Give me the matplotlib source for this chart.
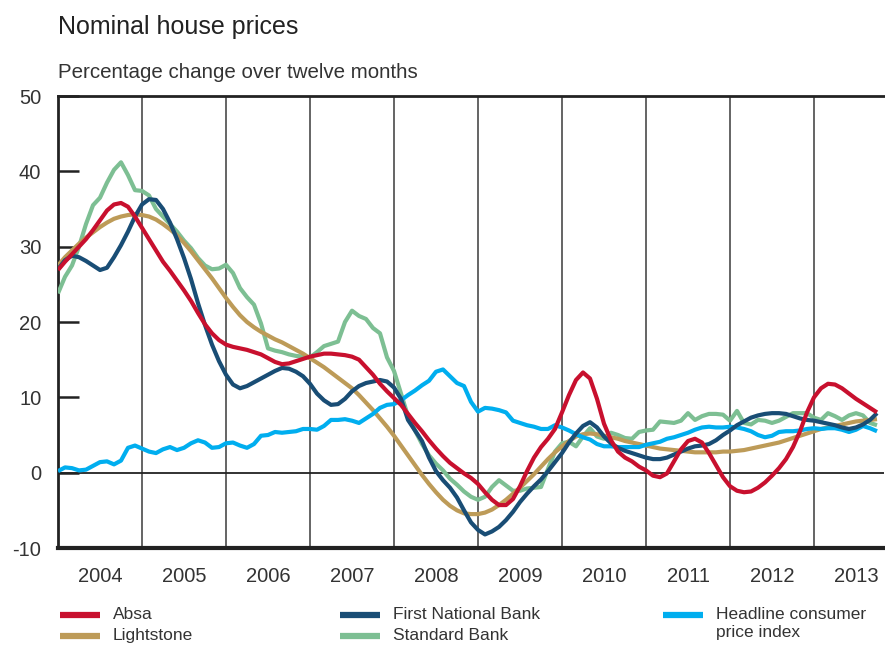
import numpy as np
import matplotlib
matplotlib.use("Agg")
import matplotlib.pyplot as plt
from matplotlib.lines import Line2D

plt.rcParams['font.family'] = ['Liberation Sans', 'DejaVu Sans']
plt.rcParams['axes.unicode_minus'] = False

# Monthly twelve-month percentage changes, January 2004 onwards
absa = [26.9, 28.0, 29.0, 30.0, 31.0, 32.2, 33.5, 34.8, 35.6, 35.8, 35.3, 34.0,
        32.5, 31.0, 29.5, 28.0, 26.8, 25.5, 24.2, 22.8, 21.2, 19.7, 18.5, 17.6,
        17.0, 16.7, 16.5, 16.3, 16.0, 15.7, 15.2, 14.7, 14.4, 14.5, 14.8, 15.1,
        15.4, 15.6, 15.8, 15.8, 15.7, 15.6, 15.4, 15.0, 14.0, 13.0, 11.8, 10.8,
        9.9, 9.0, 7.8, 6.6, 5.5, 4.3, 3.2, 2.2, 1.3, 0.6, -0.1, -0.7,
        -1.5, -2.6, -3.6, -4.3, -4.3, -3.5, -1.8, 0.2, 2.0, 3.4, 4.5, 5.8,
        8.0, 10.3, 12.3, 13.3, 12.5, 9.8, 6.5, 4.3, 2.8, 2.0, 1.5, 0.8,
        0.3, -0.4, -0.6, -0.1, 1.5, 3.1, 4.2, 4.5, 4.0, 2.6, 1.0, -0.6,
        -1.8, -2.4, -2.6, -2.5, -2.0, -1.3, -0.4, 0.6, 1.8, 3.4, 5.5, 8.0,
        10.0, 11.2, 11.8, 11.7, 11.2, 10.5, 9.8, 9.2, 8.6, 8.0]

lightstone = [27.5, 28.6, 29.5, 30.4, 31.2, 31.9, 32.6, 33.2, 33.7, 34.0, 34.2, 34.3,
              34.2, 34.0, 33.6, 33.0, 32.3, 31.5, 30.5, 29.4, 28.2, 27.0, 25.8, 24.5,
              23.2, 22.0, 20.9, 20.0, 19.3, 18.7, 18.2, 17.7, 17.3, 16.8, 16.3, 15.8,
              15.2, 14.6, 14.0, 13.3, 12.6, 11.9, 11.2, 10.3, 9.3, 8.3, 7.2, 6.1,
              4.9, 3.6, 2.3, 1.0, -0.3, -1.5, -2.6, -3.6, -4.4, -5.0, -5.4, -5.5,
              -5.5, -5.3, -4.9, -4.3, -3.6, -2.8, -2.0, -1.1, -0.2, 0.8, 1.8, 2.7,
              3.5, 4.2, 4.8, 5.1, 5.2, 5.1, 4.9, 4.7, 4.5, 4.2, 4.0, 3.8,
              3.6, 3.4, 3.2, 3.1, 3.0, 2.9, 2.8, 2.7, 2.7, 2.7, 2.7, 2.8,
              2.8, 2.9, 3.0, 3.2, 3.4, 3.6, 3.8, 4.0, 4.3, 4.6, 4.9, 5.2,
              5.5, 5.8, 6.0, 6.2, 6.4, 6.6, 6.8, 6.9, 7.0, 7.1]

fnb = [27.0, 28.2, 28.8, 28.6, 28.1, 27.5, 26.9, 27.2, 28.6, 30.2, 32.0, 34.0,
       35.6, 36.3, 36.2, 35.0, 33.2, 31.0, 28.5, 25.7, 22.5, 19.6, 17.0, 14.8,
       13.0, 11.7, 11.2, 11.5, 12.0, 12.5, 13.0, 13.5, 13.9, 13.8, 13.4, 12.8,
       11.8, 10.5, 9.6, 9.0, 9.1, 9.8, 10.8, 11.5, 11.9, 12.1, 12.3, 12.1,
       11.3, 9.8, 7.0, 5.6, 4.2, 2.0, 0.2, -1.0, -2.0, -3.3, -5.0, -6.6,
       -7.6, -8.2, -7.8, -7.2, -6.3, -5.2, -3.9, -2.8, -1.8, -0.9, 0.2, 1.4,
       2.6, 4.0, 5.2, 6.2, 6.7, 6.0, 4.8, 3.9, 3.3, 2.9, 2.6, 2.3,
       2.0, 1.8, 1.8, 2.0, 2.4, 2.8, 3.2, 3.5, 3.6, 3.8, 4.3, 5.0,
       5.6, 6.3, 6.8, 7.3, 7.6, 7.8, 7.9, 7.9, 7.8, 7.5, 7.2, 7.0,
       6.9, 6.7, 6.5, 6.3, 6.0, 5.8, 6.0, 6.4, 7.0, 7.9]

standard_bank = [23.8, 26.0, 27.5, 30.0, 33.0, 35.5, 36.5, 38.5, 40.2, 41.2, 39.5, 37.5,
                 37.4, 36.8, 35.0, 34.0, 33.0, 32.0, 30.8, 29.8, 28.5, 27.5, 27.0, 27.1,
                 27.6, 26.5, 24.5, 23.3, 22.3, 19.8, 16.5, 16.2, 16.0, 15.7, 15.5, 15.4,
                 15.3, 16.0, 16.8, 17.1, 17.4, 20.0, 21.5, 20.8, 20.4, 19.2, 18.5, 15.3,
                 13.5, 10.5, 7.5, 5.6, 3.8, 2.3, 1.2, 0.3, -0.8, -1.6, -2.5, -3.2,
                 -3.6, -3.2, -1.9, -1.0, -1.7, -2.4, -2.4, -2.1, -2.0, -1.9, 0.5, 2.8,
                 3.9, 4.1, 3.5, 4.8, 5.9, 4.8, 4.5, 5.3, 5.0, 4.6, 4.5, 5.4,
                 5.6, 5.7, 6.8, 6.7, 6.6, 6.9, 7.9, 7.0, 7.5, 7.8, 7.8, 7.7,
                 6.9, 8.2, 6.6, 6.4, 7.0, 6.9, 6.6, 6.9, 7.4, 7.9, 7.9, 7.9,
                 7.3, 7.0, 7.9, 7.5, 7.0, 7.6, 7.9, 7.6, 6.6, 6.3]

cpi = [0.2, 0.7, 0.6, 0.3, 0.4, 0.9, 1.4, 1.5, 1.1, 1.6, 3.3, 3.6,
       3.2, 2.8, 2.6, 3.1, 3.4, 3.0, 3.3, 3.9, 4.3, 4.0, 3.3, 3.4,
       3.9, 4.0, 3.6, 3.3, 3.8, 4.9, 5.0, 5.4, 5.3, 5.4, 5.5, 5.8,
       5.8, 5.7, 6.2, 7.0, 7.0, 7.1, 6.9, 6.6, 7.2, 7.8, 8.6, 9.0,
       9.1, 9.6, 10.3, 10.9, 11.6, 12.2, 13.4, 13.7, 12.8, 11.9, 11.5, 9.4,
       8.1, 8.6, 8.5, 8.3, 8.0, 6.9, 6.6, 6.3, 6.1, 5.8, 5.8, 6.3,
       6.0, 5.6, 5.1, 4.7, 4.4, 3.8, 3.5, 3.5, 3.4, 3.4, 3.4, 3.4,
       3.7, 3.9, 4.1, 4.5, 4.7, 5.0, 5.3, 5.7, 6.0, 6.1, 6.0, 6.0,
       6.1, 6.0, 5.8, 5.5, 5.0, 4.7, 4.9, 5.4, 5.5, 5.5, 5.6, 5.8,
       5.9, 5.8, 5.9, 5.9, 5.7, 5.4, 5.7, 6.2, 5.9, 5.5]

years = list(range(2004, 2014))
series = [
    ("Standard Bank", standard_bank, "#7dbf93"),
    ("Lightstone", lightstone, "#bd9b58"),
    ("Headline consumer\nprice index", cpi, "#00aeef"),
    ("First National Bank", fnb, "#194d75"),
    ("Absa", absa, "#c8102e"),
]

months = 2004 + np.arange(len(absa)) / 12

fig = plt.figure(figsize=(8.85, 6.48), dpi=100)
ax = fig.add_axes([58 / 885, 1 - 548 / 648, 826 / 885, 452 / 648])

for name, vals, col in series:
    ax.plot(months, vals, color=col, lw=3.0, solid_joinstyle='round',
            solid_capstyle='butt', zorder=3)

ax.set_xlim(2004, 2004 + 826 / 84)
ax.set_ylim(-10, 50)

# year dividers and zero line
for yr in years[1:]:
    ax.axvline(yr, color='#3a3a3a', lw=1.1, zorder=1)
ax.axhline(0, color='#222222', lw=1.3, zorder=1)

ax.set_xticks(years[1:])
ax.set_xticklabels([])
ax.set_xticks([y + 0.5 for y in years], minor=True)
ax.set_xticklabels([str(y) for y in years], minor=True)
ax.tick_params(axis='x', which='both', length=0, pad=14, labelsize=14.5,
               colors='#333333')

ax.set_yticks(range(-10, 51, 10))
ax.tick_params(axis='y', direction='in', length=15, width=1.8, pad=12,
               labelsize=14.5, colors='#222222', labelcolor='#333333')

ax.spines['right'].set_visible(False)
ax.spines['top'].set_linewidth(2.0)
ax.spines['left'].set_linewidth(2.0)
ax.spines['bottom'].set_linewidth(3.0)
for s in ('top', 'left', 'bottom'):
    ax.spines[s].set_color('#222222')

fig.text(58 / 885, 1 - 27 / 648, "Nominal house prices", fontsize=18,
         color='#222222', va='center', ha='left')
fig.text(58 / 885, 1 - 72 / 648, "Percentage change over twelve months",
         fontsize=14.8, color='#333333', va='center', ha='left')

# legend laid out in three columns below the axes
legend_items = [
    ("Absa", "#c8102e", 60, 615),
    ("Lightstone", "#bd9b58", 60, 636),
    ("First National Bank", "#194d75", 340, 615),
    ("Standard Bank", "#7dbf93", 340, 636),
    ("Headline consumer\nprice index", "#00aeef", 663, 615),
]
for label, col, px, py in legend_items:
    yf = 1 - py / 648
    fig.add_artist(Line2D([px / 885, (px + 40) / 885], [yf, yf], color=col,
                          lw=4.5, solid_capstyle='butt'))
    fig.text((px + 53) / 885, yf + 0.013, label, fontsize=12.5, color='#333333',
             va='top', ha='left', linespacing=1.3)

fig.savefig("out.png", dpi=100)
